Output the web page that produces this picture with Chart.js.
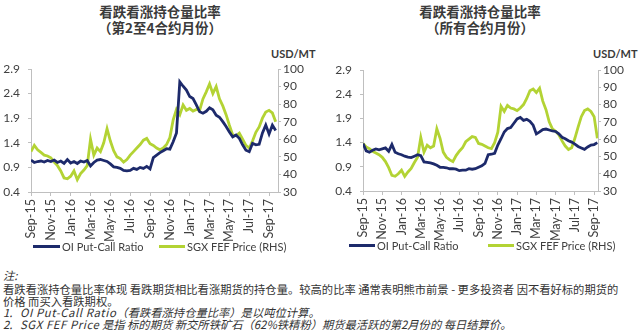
<!DOCTYPE html>
<html>
<head>
<meta charset="utf-8">
<script src="https://cdn.jsdelivr.net/npm/chart.js@4.4.1/dist/chart.umd.min.js"></script>
<style>
  body { margin: 0; width: 640px; height: 334px; background: #fff; position: relative; overflow: hidden; color: #404040; }
  .title { position: absolute; top: 3px; width: 320px; text-align: center; font-family: "Noto Sans CJK SC", sans-serif; font-weight: bold; font-size: 13.5px; line-height: 16px; color: #3a3a3a; }
  .unit { position: absolute; top: 47px; font-family: Lato, sans-serif; font-weight: bold; font-size: 11px; color: #3a3a3a; }
  .box { position: absolute; top: 40px; width: 320px; }
  .key { position: absolute; height: 14px; font-family: Lato, sans-serif; font-size: 11px; line-height: 14px; color: #404040; white-space: nowrap; }
  .key b { display: inline-block; height: 3px; vertical-align: middle; margin-right: 2px; position: relative; top: -1px; }
  .note { position: absolute; left: 3px; font-family: "Noto Sans CJK SC", sans-serif; font-size: 11.3px; line-height: 13px; color: #333; white-space: nowrap; }
  .note.it { font-style: italic; }
  .note .en { letter-spacing: 0.6px; }
</style>
</head>
<body>
<div class="title" style="left:0">看跌看涨持仓量比率<br>（第2至4合约月份）</div>
<div class="title" style="left:320px">看跌看涨持仓量比率<br>（所有合约月份）</div>
<div class="unit" style="left:271px">USD/MT</div>
<div class="unit" style="left:593px">USD/MT</div>
<div class="box" style="left:0"><canvas id="near" width="320" height="201"></canvas></div>
<div class="box" style="left:320px"><canvas id="all" width="320" height="200"></canvas></div>

<div class="key" style="left:33px;top:239.5px"><b style="width:27px;background:#1d2a6b"></b>OI Put-Call Ratio</div>
<div class="key" style="left:159px;top:239.5px"><b style="width:26px;background:#b3d334"></b>SGX FEF Price (RHS)</div>
<div class="key" style="left:349px;top:238.5px"><b style="width:26px;background:#1d2a6b"></b>OI Put-Call Ratio</div>
<div class="key" style="left:488px;top:238.5px"><b style="width:26px;background:#b3d334"></b>SGX FEF Price (RHS)</div>

<div class="note it" style="top:269px">注:</div>
<div class="note" style="top:283px">看跌看涨持仓量比率体现 看跌期货相比看涨期货的持仓量。较高的比率 通常表明熊市前景 - 更多投资者 因不看好标的期货的</div>
<div class="note" style="top:294.5px">价格 而买入看跌期权。</div>
<div class="note it" style="top:306px">1.&nbsp;&nbsp;&nbsp;<span class="en">OI Put-Call Ratio</span>（看跌看涨持仓量比率）是以吨位计算。</div>
<div class="note it" style="top:318px">2.&nbsp;&nbsp;&nbsp;<span class="en">SGX FEF Price</span> 是指 标的期货 新交所铁矿石（62%铁精粉）期货最活跃的第2月份的 每日结算价。</div>

<script>
// x axis labels, one every two months starting Sep-15
const monthTicks = ['Sep-15', 'Nov-15', 'Jan-16', 'Mar-16', 'May-16', 'Jul-16', 'Sep-16',
                    'Nov-16', 'Jan-17', 'Mar-17', 'May-17', 'Jul-17', 'Sep-17'];
const ratioTicks = [0.4, 0.9, 1.4, 1.9, 2.4, 2.9];
const priceTicks = [30, 40, 50, 60, 70, 80, 90, 100];

// readings taken three times a month from Sep-15
// 2nd to 4th contract months
const ratioNear = [
  1.05, 1.00, 1.02, 1.03, 1.01, 1.04, 1.02, 1.05, 1.00, 1.03, 0.98, 1.06,
  0.99, 1.02, 0.98, 1.03, 1.01, 1.04, 0.93, 1.00, 1.05, 1.06, 1.04, 1.02,
  0.97, 0.91, 0.90, 0.88, 0.84, 0.83, 0.84, 0.88, 0.86, 0.90, 0.88, 0.92,
  0.87, 1.10, 1.15, 1.20, 1.24, 1.28, 1.27, 1.42, 1.60, 2.64, 2.55, 2.47,
  2.34, 2.30, 2.17, 2.03, 2.00, 2.04, 2.11, 2.07, 1.96, 1.92, 1.83, 1.73,
  1.62, 1.52, 1.56, 1.49, 1.36, 1.25, 1.22, 1.39, 1.36, 1.37, 1.60, 1.76,
  1.58, 1.76, 1.65
];
const priceNear = [
  53, 56.5, 54, 52.5, 51, 50.5, 49.5, 47, 45, 42, 38, 37.5,
  39, 42, 37, 40.5, 42.5, 45, 60, 51, 55, 53, 58, 66,
  59, 53.5, 50, 49, 47, 48.5, 51, 53, 55, 57, 59.5, 60.5,
  57.5, 56.5, 55, 54, 55, 57, 61, 71, 77, 74, 79.5, 76.5,
  77.5, 76, 77, 76.5, 83, 87, 91.5, 86, 90, 83, 79, 74,
  68, 62.5, 62, 63.5, 60, 56.5, 55, 59, 64, 67, 72, 75.5,
  76.5, 75, 70
];
// all contract months
const ratioAll = [
  1.38, 1.23, 1.20, 1.24, 1.27, 1.25, 1.27, 1.29, 1.22, 1.36, 1.20, 1.17,
  1.15, 1.12, 1.10, 1.09, 1.12, 1.15, 1.13, 1.00, 0.99, 0.98, 0.96, 0.93,
  0.89, 0.89, 0.88, 0.86, 0.86, 0.85, 0.82, 0.83, 0.83, 0.86, 0.85, 0.86,
  0.89, 0.92, 0.97, 1.15, 1.16, 1.18, 1.35, 1.48, 1.62, 1.69, 1.71, 1.80,
  1.89, 1.92, 1.86, 1.88, 1.84, 1.76, 1.58, 1.62, 1.67, 1.68, 1.66, 1.64,
  1.63, 1.58, 1.51, 1.48, 1.44, 1.41, 1.37, 1.32, 1.29, 1.26, 1.31, 1.35,
  1.36, 1.40
];
const priceAll = [
  57.5, 55.5, 54.5, 53, 52, 51, 49.5, 47, 43.5, 39, 38.5, 40,
  42, 38.5, 41, 43, 46.5, 49.5, 61, 52.5, 56.5, 55, 56, 66,
  60.5, 52.5, 49.5, 48, 47, 50.5, 53, 55, 58.5, 60, 61.5, 61,
  57.5, 57, 56, 55, 54.5, 58, 64, 79, 76, 79.5, 78, 77.5,
  76.5, 78, 80, 83.5, 88, 89, 87, 89.5, 82, 77, 70, 66,
  64.5, 62.5, 59, 56, 54, 55, 60.5, 67, 73, 76.5, 77.5, 76,
  73, 60.5
];

const NAVY = '#1d2a6b';
const LIME = '#b3d334';
const AXIS = '#bfbfbf';
const TEXT = '#404040';

// position on the time axis is measured in months since Sep-15
function series(vals) {
  return vals.map((v, i) => ({ x: i / 3, y: v }));
}

function makeChart(id, ratio, price, xMax, leftWidth, topPad) {
  return new Chart(document.getElementById(id), {
    type: 'line',
    data: {
      datasets: [
        { label: 'OI Put-Call Ratio', data: series(ratio), yAxisID: 'y',
          borderColor: NAVY, borderWidth: 2.8, pointRadius: 0 },
        { label: 'SGX FEF Price (RHS)', data: series(price), yAxisID: 'y1',
          borderColor: LIME, borderWidth: 2.8, pointRadius: 0 }
      ]
    },
    options: {
      responsive: false,
      animation: false,
      layout: { padding: { top: topPad, left: 0, right: 0, bottom: 0 } },
      plugins: {
        tooltip: { enabled: false },
        legend: { display: false }
      },
      scales: {
        x: {
          type: 'linear', min: 0, max: xMax,
          afterBuildTicks: s => { s.ticks = monthTicks.map((_, k) => ({ value: 2 * k })); },
          afterFit: s => { s.height = 49; },
          ticks: { autoSkip: false, maxRotation: 90, minRotation: 90, padding: 3, color: TEXT,
                   font: { family: 'Lato', size: 12.5 },
                   callback: v => monthTicks[v / 2] },
          grid: { drawOnChartArea: false, tickLength: 4, color: AXIS },
          border: { color: AXIS }
        },
        y: {
          position: 'left', min: 0.4, max: 2.9,
          afterBuildTicks: s => { s.ticks = ratioTicks.map(v => ({ value: v })); },
          afterFit: s => { s.width = leftWidth; },
          ticks: { autoSkip: false, padding: 8, color: TEXT, font: { family: 'Lato', size: 12 },
                   callback: v => v.toFixed(1) },
          grid: { drawOnChartArea: false, tickLength: 3, color: AXIS },
          border: { color: AXIS }
        },
        y1: {
          position: 'right', min: 30, max: 100,
          afterBuildTicks: s => { s.ticks = priceTicks.map(v => ({ value: v })); },
          afterFit: s => { s.width = 42; },
          ticks: { autoSkip: false, padding: 2, color: TEXT, font: { family: 'Lato', size: 12 } },
          grid: { drawOnChartArea: false, tickLength: 3, color: AXIS },
          border: { color: AXIS }
        }
      }
    }
  });
}

makeChart('near', ratioNear, priceNear, 24.9, 31, 29);
makeChart('all', ratioAll, priceAll, 24.4, 43, 30);
</script>
</body>
</html>
